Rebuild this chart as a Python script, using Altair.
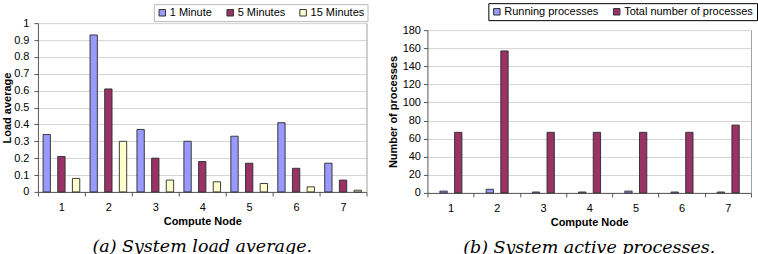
import altair as alt
import pandas as pd

# Compute nodes on the x axis
nodes = ["1", "2", "3", "4", "5", "6", "7"]

# (a) load averages per node
load_series = ["1 Minute", "5 Minutes", "15 Minutes"]
load_1min = [0.34, 0.93, 0.37, 0.30, 0.33, 0.41, 0.17]
load_5min = [0.21, 0.61, 0.20, 0.18, 0.17, 0.14, 0.07]
load_15min = [0.08, 0.30, 0.07, 0.06, 0.05, 0.03, 0.01]
load_colors = ["#9999FF", "#993366", "#FFFFCC"]
load_ticks = [0, 0.1, 0.2, 0.3, 0.4, 0.5, 0.6, 0.7, 0.8, 0.9, 1]

# (b) process counts per node
proc_series = ["Running processes", "Total number of processes"]
proc_running = [2, 4, 1, 1, 2, 1, 1]
proc_total = [67, 157, 67, 67, 67, 67, 75]
proc_colors = ["#9999FF", "#993366"]
proc_ticks = [0, 20, 40, 60, 80, 100, 120, 140, 160, 180]

FONT = "Liberation Sans"
CAPTION_FONT = "DejaVu Serif"


def long_table(series_names, columns):
    rows = []
    for name, vals in zip(series_names, columns):
        for node, v in zip(nodes, vals):
            rows.append({"Node": node, "Series": name, "Value": v})
    return pd.DataFrame(rows)


load_df = long_table(load_series, [load_1min, load_5min, load_15min])
proc_df = long_table(proc_series, [proc_running, proc_total])


def panel(df, series, colors, ticks, fmt, y_title, y_scale, offset_pad, width,
          height, legend_x, legend_y, legend_stroke, caption, label_pad,
          title_pad):
    x_enc = alt.X(
        "Node:N", sort=nodes,
        scale=alt.Scale(paddingInner=0, paddingOuter=0),
        axis=alt.Axis(
            title="Compute Node", labelAngle=0, tickBand="extent", grid=False,
            domainColor="#555555", tickColor="#555555", tickSize=4,
            labelPadding=6, labelFont=FONT, labelFontSize=11,
            labelColor="#000000", titleFont=FONT, titleFontSize=11,
            titleFontWeight="bold", titlePadding=3, titleColor="#000000",
        ),
    )
    bars = alt.Chart(df).mark_bar(stroke="#2a2a2a", strokeWidth=0.9).encode(
        x=x_enc,
        xOffset=alt.XOffset(
            "Series:N", sort=series,
            scale=alt.Scale(paddingInner=0, paddingOuter=offset_pad),
        ),
        y=alt.Y(
            "Value:Q", scale=y_scale,
            axis=alt.Axis(
                title=y_title, values=ticks, format=fmt,
                grid=True, gridColor="#d4d4d4",
                domainColor="#555555", tickColor="#555555", tickSize=4,
                labelPadding=label_pad, labelFont=FONT, labelFontSize=11,
                labelColor="#000000", titleFont=FONT, titleFontSize=11,
                titleFontWeight="bold", titlePadding=title_pad,
                titleColor="#000000",
            ),
        ),
        color=alt.Color(
            "Series:N", sort=series,
            scale=alt.Scale(domain=series, range=colors),
            legend=alt.Legend(
                title=None, orient="none", direction="horizontal",
                legendX=legend_x, legendY=legend_y,
                strokeColor=legend_stroke, padding=3,
                symbolType="square", symbolSize=42,
                symbolStrokeColor="#333333", symbolStrokeWidth=1,
                symbolOpacity=1, labelFont=FONT, labelFontSize=11,
                labelColor="#000000", labelOffset=2, columnPadding=12,
            ),
        ),
    )
    # right-hand edge of the plot frame
    frame = alt.Chart(df).mark_rule(opacity=0).encode(
        y=alt.Y(
            "Value:Q", scale=y_scale,
            axis=alt.Axis(orient="right", labels=False, ticks=False,
                          grid=False, domainColor="#a0a0a0", title=None),
        )
    )
    return alt.layer(bars, frame).resolve_axis(y="independent").properties(
        width=width, height=height,
        title=alt.TitleParams(
            caption, orient="bottom", anchor="middle", frame="group",
            font=CAPTION_FONT, fontStyle="italic", fontWeight="normal",
            fontSize=17.5, color="#000000", offset=11,
        ),
    )


left = panel(
    load_df, load_series, load_colors, load_ticks, "~g", "Load average",
    alt.Scale(domain=[0, 1], nice=False, zero=True),
    0.7, 329, 169, 116, -19, "#bbbbbb",
    "(a) System load average.", 5, 1,
)

right = panel(
    proc_df, proc_series, proc_colors, proc_ticks, "d", "Number of processes",
    alt.Scale(domain=[0, 180], nice=False, zero=True, range=[170, 7]),
    0.78, 324, 170, 61, -20, "#000000",
    "(b) System active processes.", 3, 4,
)

chart = alt.hconcat(
    left, right, spacing=61, bounds="flush",
    padding={"left": 1, "top": 2, "right": 0, "bottom": 0},
    background="#ffffff",
).resolve_scale(color="independent").configure_view(stroke=None)

chart.save("out.html", embed_options={"renderer": "svg", "actions": False})
